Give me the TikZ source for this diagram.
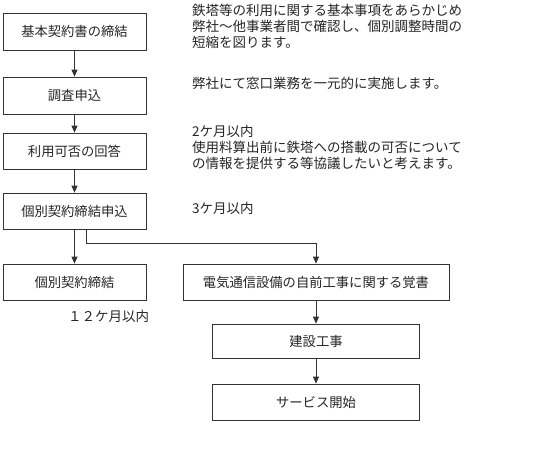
\documentclass[tikz,border=0pt]{standalone}
\usepackage{fontspec}
\setmainfont{Noto Sans CJK JP}
\usetikzlibrary{arrows.meta}
\begin{document}
\begin{tikzpicture}[x=1pt,y=1pt,
  box/.style={draw=black!80, line width=0.8pt, rectangle, inner sep=0pt,
    font=\fontsize{13.3}{16}\selectfont, text=black!85},
  note/.style={inner sep=0pt, anchor=north west, align=left,
    font=\fontsize{13.5}{16}\selectfont, text=black!85},
  conn/.style={draw=black!80, line width=0.8pt},
  arr/.style={conn, -{Triangle[width=6pt,length=7pt]}}]
\useasboundingbox (0,0) rectangle (550,-458);
\fill[white] (0,0) rectangle (550,-458);
\node[box, minimum width=143pt, minimum height=37pt] (b1) at (74.5,-31.5) {基本契約書の締結};
\node[box, minimum width=143pt, minimum height=37pt] (b2) at (74.5,-95.5) {調査申込};
\node[box, minimum width=143pt, minimum height=36pt] (b3) at (74.5,-151) {利用可否の回答};
\node[box, minimum width=143pt, minimum height=36pt] (b4) at (74.5,-211) {個別契約締結申込};
\node[box, minimum width=143pt, minimum height=36pt] (b5) at (74.5,-282) {個別契約締結};
\node[box, minimum width=266pt, minimum height=36pt] (b6) at (316,-282) {電気通信設備の自前工事に関する覚書};
\node[box, minimum width=207pt, minimum height=34pt] (b7) at (316,-341) {建設工事};
\node[box, minimum width=207pt, minimum height=36pt] (b8) at (316,-402) {サービス開始};
\draw[arr] (b1) -- (b2);
\draw[arr] (b2) -- (b3);
\draw[arr] (b3) -- (b4);
\draw[arr] (b4) -- (b5);
\draw[arr] (b6) -- (b7);
\draw[arr] (b7) -- (b8);
\coordinate (br) at (86,-243);
\draw[arr] (b4.south -| br) -- (br) -| (b6.north);
\node[note] (t1) at (192,-4) {鉄塔等の利用に関する基本事項をあらかじめ\\弊社～他事業者間で確認し、個別調整時間の\\短縮を図ります。};
\node[note] (t2) at (192,-77) {弊社にて窓口業務を一元的に実施します。};
\node[note] (t3) at (192,-125) {2ケ月以内\\使用料算出前に鉄塔への搭載の可否について\\の情報を提供する等協議したいと考えます。};
\node[note] (t4) at (192,-202) {3ケ月以内};
\node[note] (t5) at (68,-310) {１２ケ月以内};
\end{tikzpicture}
\end{document}
